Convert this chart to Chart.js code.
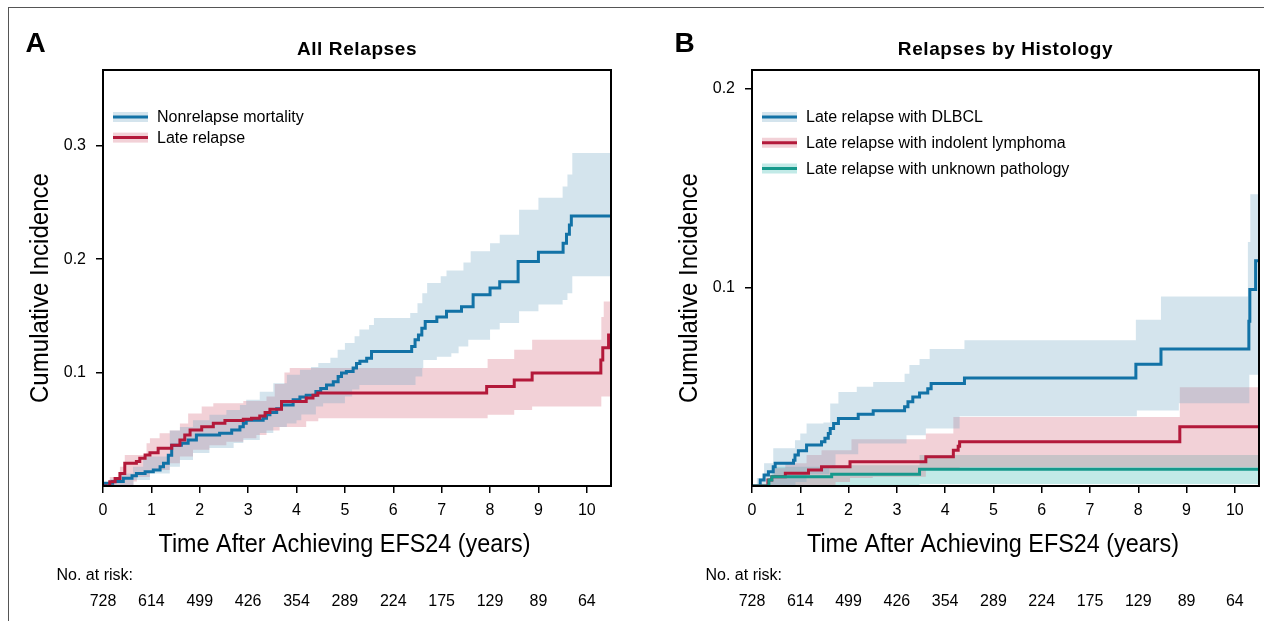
<!DOCTYPE html>
<html>
<head>
<meta charset="utf-8">
<script src="https://cdn.jsdelivr.net/npm/chart.js@4.4.1/dist/chart.umd.min.js"></script>
<style>
body{margin:0;background:#fff;}
#wrap{position:relative;width:1264px;height:621px;overflow:hidden;background:#fff;}
#frame{position:absolute;left:8px;top:7px;width:1400px;height:800px;border-top:1px solid #555;border-left:1px solid #555;}
canvas{position:absolute;top:0;}
#chartA{left:0;}
#chartB{left:632px;}
</style>
</head>
<body>
<div id="wrap">
<div id="frame"></div>
<canvas id="chartA" width="632" height="621"></canvas>
<canvas id="chartB" width="632" height="621"></canvas>
</div>
<script>
// shared
const xTicks=[0,1,2,3,4,5,6,7,8,9,10];
const atRisk=[728,614,499,426,354,289,224,175,129,89,64];
const yTicksA=[0.1,0.2,0.3];
const yTicksB=[0.1,0.2];

// panel A - all relapses  [years, cumulative incidence]
const nrmLine=[[0,0],[0.05,0.0024],[0.2,0.004],[0.42,0.0068],[0.6,0.009],[0.69,0.011],[0.87,0.0126],[1.04,0.014],[1.18,0.017],[1.25,0.02],[1.35,0.027],[1.42,0.036],[1.62,0.0377],[1.76,0.0406],[1.93,0.045],[2.41,0.0465],[2.66,0.0494],[2.83,0.0523],[2.9,0.0553],[2.96,0.058],[3.31,0.0598],[3.38,0.0627],[3.45,0.0647],[3.59,0.068],[3.69,0.0715],[3.93,0.076],[4.07,0.0785],[4.2,0.08],[4.4,0.0832],[4.5,0.086],[4.62,0.089],[4.76,0.092],[4.86,0.0965],[4.93,0.0995],[5.03,0.101],[5.17,0.104],[5.24,0.108],[5.31,0.11],[5.45,0.1127],[5.55,0.1185],[6.38,0.123],[6.45,0.129],[6.52,0.133],[6.59,0.139],[6.66,0.145],[6.9,0.149],[7.1,0.154],[7.41,0.158],[7.65,0.1686],[8.0,0.1745],[8.2,0.18],[8.58,0.198],[9.0,0.206],[9.51,0.214],[9.58,0.222],[9.64,0.23],[9.68,0.238],[10.5,0.238]];
const nrmUpper=[[0,0.002],[0.14,0.006],[0.35,0.011],[0.62,0.017],[0.83,0.026],[1.38,0.049],[1.59,0.052],[1.86,0.058],[2.2,0.0627],[2.55,0.067],[2.83,0.0715],[2.96,0.076],[3.24,0.083],[3.52,0.0906],[3.8,0.098],[4.07,0.1024],[4.3,0.105],[4.45,0.1085],[4.7,0.113],[4.85,0.12],[5.0,0.126],[5.2,0.132],[5.3,0.138],[5.5,0.142],[5.6,0.148],[6.35,0.1525],[6.5,0.161],[6.6,0.17],[6.7,0.179],[6.98,0.185],[7.1,0.19],[7.45,0.197],[7.6,0.207],[8.0,0.214],[8.2,0.2215],[8.6,0.2436],[9.0,0.254],[9.5,0.264],[9.6,0.2745],[9.7,0.2936],[10.5,0.2936]];
const nrmLower=[[0,0],[0.63,0.0053],[0.97,0.011],[1.38,0.017],[1.59,0.023],[1.86,0.029],[2.2,0.0335],[2.7,0.038],[2.9,0.0406],[3.24,0.0468],[3.52,0.052],[3.8,0.055],[4.0,0.058],[4.1,0.063],[4.4,0.07],[4.55,0.073],[5.0,0.079],[5.15,0.085],[5.3,0.089],[6.46,0.0965],[6.6,0.104],[6.62,0.111],[6.9,0.114],[7.2,0.117],[7.35,0.123],[7.55,0.129],[8.0,0.138],[8.2,0.1436],[8.6,0.154],[9.0,0.16],[9.5,0.164],[9.6,0.17],[9.7,0.1848],[10.5,0.1848]];
const lateLine=[[0,0],[0.14,0.0038],[0.25,0.0067],[0.35,0.011],[0.45,0.02],[0.69,0.0215],[0.76,0.0245],[0.87,0.0274],[0.97,0.0294],[1.14,0.0333],[1.42,0.036],[1.59,0.0406],[1.69,0.045],[1.8,0.0494],[2.04,0.0523],[2.28,0.0553],[2.52,0.0577],[2.9,0.0589],[3.07,0.0598],[3.24,0.0618],[3.35,0.0647],[3.45,0.0677],[3.69,0.0745],[4.2,0.0775],[4.34,0.08],[4.44,0.082],[7.93,0.0876],[8.5,0.0935],[8.87,0.0995],[10.29,0.111],[10.33,0.1218],[10.45,0.133],[10.5,0.133]];
const lateUpper=[[0,0.001],[0.14,0.008],[0.35,0.017],[0.45,0.0274],[0.9,0.0377],[0.97,0.042],[1.17,0.0465],[1.38,0.049],[1.59,0.055],[1.76,0.064],[2.04,0.07],[2.28,0.073],[2.9,0.075],[3.38,0.079],[3.55,0.09],[3.75,0.1],[3.86,0.104],[7.95,0.112],[8.5,0.12],[8.87,0.129],[10.3,0.149],[10.35,0.1627],[10.5,0.1627]];
const lateLower=[[0,0],[0.63,0.004],[0.7,0.008],[0.97,0.014],[1.38,0.02],[1.59,0.026],[1.86,0.032],[2.2,0.036],[2.55,0.039],[2.9,0.042],[3.17,0.045],[3.38,0.049],[3.65,0.052],[4.2,0.057],[4.45,0.0597],[7.95,0.0627],[8.5,0.067],[8.87,0.07],[10.3,0.0788],[10.5,0.0788]];

// panel B - by histology
const dlbclLine=[[0,0],[0.17,0.003],[0.25,0.0055],[0.34,0.0072],[0.44,0.0097],[0.48,0.0114],[0.86,0.013],[0.89,0.0156],[0.96,0.0177],[1.13,0.0206],[1.44,0.0223],[1.51,0.024],[1.58,0.0265],[1.62,0.029],[1.69,0.0315],[1.79,0.034],[2.2,0.0362],[2.51,0.0379],[3.16,0.0399],[3.23,0.0424],[3.33,0.0449],[3.47,0.0469],[3.64,0.049],[3.71,0.0516],[4.4,0.0544],[7.95,0.0613],[8.47,0.069],[10.29,0.083],[10.31,0.099],[10.43,0.1135],[10.5,0.1135]];
const dlbclUpper=[[0,0],[0.1,0.004],[0.25,0.0114],[0.44,0.019],[0.89,0.023],[1.0,0.0265],[1.13,0.0315],[1.48,0.032],[1.62,0.0416],[1.79,0.0474],[2.17,0.05],[2.51,0.0524],[3.16,0.0566],[3.26,0.061],[3.47,0.064],[3.68,0.069],[4.4,0.0734],[7.95,0.0838],[8.47,0.0955],[10.27,0.123],[10.32,0.147],[10.5,0.147]];
const dlbclLower=[[0,0],[0.9,0.002],[1.13,0.006],[1.6,0.009],[1.73,0.016],[2.2,0.0214],[3.2,0.0256],[3.6,0.029],[4.3,0.0352],[7.97,0.038],[8.84,0.0417],[10.3,0.056],[10.5,0.056]];
const indolentLine=[[0,0],[0.33,0.003],[0.41,0.0047],[0.69,0.0064],[1.17,0.008],[1.44,0.0097],[2.03,0.0122],[3.6,0.0147],[4.17,0.018],[4.27,0.02],[4.3,0.0223],[8.86,0.0298],[10.5,0.0298]];
const indolentUpper=[[0,0],[0.33,0.003],[0.45,0.009],[0.69,0.0114],[1.13,0.0156],[1.44,0.018],[2.06,0.0235],[3.6,0.0265],[4.17,0.0348],[8.86,0.0497],[10.5,0.0497]];
const indolentLower=[[0,0],[1.73,0.002],[2.03,0.004],[2.5,0.0047],[3.6,0.008],[4.3,0.0094],[10.5,0.0094]];
const unknownLine=[[0,0],[0.35,0.003],[0.41,0.0047],[1.65,0.0059],[3.47,0.0084],[10.5,0.0084]];
const unknownUpper=[[0,0],[0.35,0.004],[0.41,0.0097],[1.65,0.0105],[3.47,0.0156],[10.5,0.0156]];
const unknownLower=[[0,0],[1.65,0.0005],[3.47,0.001],[10.5,0.001]];

const BLUE='#1272a6', RED='#b3193a', TEAL='#16998c';
const FONT='"Liberation Sans", Arial, sans-serif';

const pts=a=>a.map(p=>({x:p[0],y:p[1]}));

function band(upper,lower,color){
    return [
        {data:pts(upper),stepped:true,borderWidth:0,borderColor:'transparent',backgroundColor:color,pointRadius:0,fill:'+1'},
        {data:pts(lower),stepped:true,borderWidth:0,borderColor:'transparent',backgroundColor:color,pointRadius:0,fill:false}
    ];
}
function curve(data,color){
    return {data:pts(data),stepped:true,borderWidth:3,borderColor:color,pointRadius:0,fill:false};
}

//frame, titles, legend and at-risk row
const decor={
    id:'decor',
    afterDatasetsDraw(chart,args,o){
        const ctx=chart.ctx,a=chart.chartArea;
        ctx.save();
        ctx.strokeStyle='#000';
        ctx.lineWidth=2;
        ctx.strokeRect(a.left,a.top,a.right-a.left,a.bottom-a.top);
        ctx.restore();
    },
    afterDraw(chart,args,o){
        const ctx=chart.ctx,a=chart.chartArea,xs=chart.scales.x;
        const cx=(a.left+a.right)/2;
        ctx.save();
        ctx.fillStyle='#000';
        ctx.textBaseline='alphabetic';

        ctx.font='bold 28px '+FONT;
        ctx.textAlign='left';
        ctx.fillText(o.letter,a.left-77.5,52);

        ctx.font='bold 19px '+FONT;
        ctx.textAlign='center';
        ctx.letterSpacing='0.6px';
        ctx.fillText(o.title,cx,55);
        ctx.letterSpacing='0px';

        // legend
        o.legend.forEach((it,i)=>{
            const y=a.top+47+i*o.legendGap;
            const x=a.left+10;
            ctx.fillStyle=it.swatch;
            ctx.fillRect(x,y-5,35,10);
            ctx.strokeStyle=it.color;
            ctx.lineWidth=3;
            ctx.beginPath();ctx.moveTo(x,y);ctx.lineTo(x+35,y);ctx.stroke();
            ctx.fillStyle='#000';
            ctx.font='16px '+FONT;
            ctx.textAlign='left';
            ctx.textBaseline='middle';
            ctx.fillText(it.label,x+44,y+1);
        });
        ctx.textBaseline='alphabetic';

        // axis titles
        ctx.font='25px '+FONT;
        ctx.textAlign='center';
        ctx.fillText('Time After Achieving EFS24 (years)',cx-12.5,552,372);
        ctx.save();
        ctx.translate(a.left-55,(a.top+a.bottom)/2+10);
        ctx.rotate(-Math.PI/2);
        ctx.fillText('Cumulative Incidence',0,0,230);
        ctx.restore();

        // number at risk
        ctx.font='16px '+FONT;
        ctx.textAlign='left';
        ctx.fillText('No. at risk:',a.left-46.5,580);
        ctx.textAlign='center';
        xTicks.forEach((t,i)=>{
            ctx.fillText(String(atRisk[i]),xs.getPixelForValue(t),606);
        });
        ctx.restore();
    }
};

function makeOptions(yMax,yTicks,yWidth,padRight,extra){
    return {
        responsive:false,
        animation:false,
        devicePixelRatio:1,
        layout:{padding:{left:0,right:padRight,top:70,bottom:0}},
        scales:{
            x:{
                type:'linear',min:0,max:10.5,
                afterBuildTicks:s=>{s.ticks=xTicks.map(v=>({value:v}))},
                afterFit:s=>{s.height=135},
                grid:{drawOnChartArea:false,drawTicks:true,tickLength:7,color:'#000',lineWidth:1.5},
                border:{display:false},
                ticks:{color:'#000',font:{size:16,family:FONT},padding:8,maxRotation:0}
            },
            y:{
                min:0,max:yMax,
                afterBuildTicks:s=>{s.ticks=yTicks.map(v=>({value:v}))},
                afterFit:s=>{s.width=yWidth},
                grid:{drawOnChartArea:false,drawTicks:true,tickLength:7,color:'#000',lineWidth:1.5},
                border:{display:false},
                ticks:{color:'#000',font:{size:16,family:FONT},padding:10,callback:v=>String(v)}
            }
        },
        plugins:{
            legend:{display:false},
            tooltip:{enabled:false},
            filler:{drawTime:'beforeDatasetsDraw'},
            decor:extra
        }
    };
}

new Chart(document.querySelector('#chartA').getContext('2d'),{
    type:'line',
    data:{
        datasets:[
            ...band(nrmUpper,nrmLower,'rgba(112,165,195,0.3)'),
            ...band(lateUpper,lateLower,'rgba(212,102,122,0.3)'),
            curve(lateLine,RED),
            curve(nrmLine,BLUE)
        ]
    },
    options:makeOptions(0.3667,yTicksA,103,21,{
        letter:'A',title:'All Relapses',legendGap:20.6,
        legend:[
            {label:'Nonrelapse mortality',color:BLUE,swatch:'#d4e4ed'},
            {label:'Late relapse',color:RED,swatch:'#f2d1d7'}
        ]
    }),
    plugins:[decor]
});

new Chart(document.querySelector('#chartB').getContext('2d'),{
    type:'line',
    data:{
        datasets:[
            ...band(dlbclUpper,dlbclLower,'rgba(112,165,195,0.3)'),
            ...band(indolentUpper,indolentLower,'rgba(212,102,122,0.3)'),
            ...band(unknownUpper,unknownLower,'rgba(52,185,175,0.3)'),
            curve(unknownLine,TEAL),
            curve(indolentLine,RED),
            curve(dlbclLine,BLUE)
        ]
    },
    options:makeOptions(0.2096,yTicksB,120,5,{
        letter:'B',title:'Relapses by Histology',legendGap:25.75,
        legend:[
            {label:'Late relapse with DLBCL',color:BLUE,swatch:'#d4e4ed'},
            {label:'Late relapse with indolent lymphoma',color:RED,swatch:'#f2d1d7'},
            {label:'Late relapse with unknown pathology',color:TEAL,swatch:'#c2eae7'}
        ]
    }),
    plugins:[decor]
});
</script>
</body>
</html>
